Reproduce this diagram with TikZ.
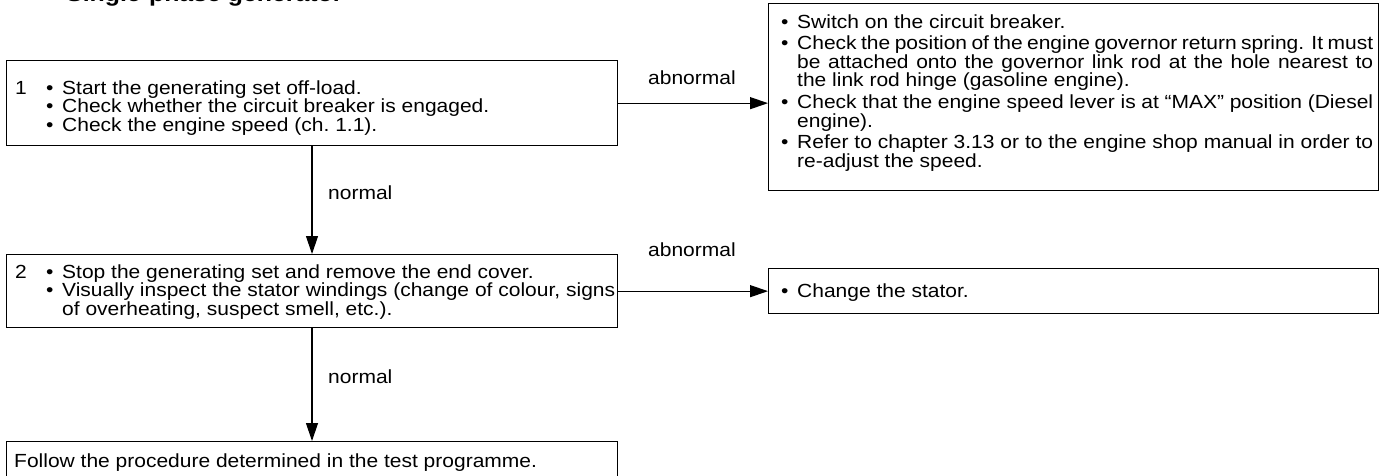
\documentclass[tikz,border=0pt]{standalone}
\usepackage{fontspec}
\setmainfont{Liberation Sans}[FakeStretch=1.105]
\usetikzlibrary{arrows.meta}
% bullet item with hanging indent
\newcommand{\pitem}[1]{\hangindent=16pt\hangafter=1\makebox[16pt][l]{\textbullet}#1\par}
\begin{document}
\begin{tikzpicture}[x=1pt,y=-1pt,
  every node/.style={font=\fontsize{19}{18}\selectfont,inner sep=0pt},
  stepbox/.style={draw,line width=1.3pt,rectangle,anchor=north west},
  steptext/.style={anchor=base west,align=justify},
  flow/.style={-{Triangle[length=18pt,width=12pt]},line width=1.2pt}]
\useasboundingbox (0,0) rectangle (1387,475);
% heading, cut by the page edge
\node[anchor=base west,font=\fontsize{22.5}{23}\bfseries\selectfont] (title) at (66,1) {Single-phase generator};
% step 1
\node[stepbox,minimum width=611pt,minimum height=85pt] (s1) at (6,60) {};
\node[anchor=base west] (n1) at (15,94) {1};
\node[steptext,text width=569pt,font=\fontsize{19}{17.7}\selectfont] (t1) at (46,94) {%
\pitem{Start the generating set off-load.}%
\pitem{Check whether the circuit breaker is engaged.}%
\pitem{Check the engine speed (ch.~1.1).}};
% remedy for step 1
\node[stepbox,minimum width=610pt,minimum height=187pt] (r1) at (768,3) {};
\node[steptext,text width=592pt,font=\fontsize{19}{18.5}\selectfont] (u1) at (781,28) {\setlength{\parskip}{3.3pt}%
\pitem{Switch on the circuit breaker.}%
\pitem{Check the position of the engine governor return spring. It must\linebreak
be attached onto the governor link rod at the hole nearest to\linebreak
the link rod hinge (gasoline engine).}%
\pitem{Check that the engine speed lever is at “MAX” position (Diesel\linebreak
engine).}%
\pitem{Refer to chapter 3.13 or to the engine shop manual in order to\linebreak
re-adjust the speed.}};
% step 2
\node[stepbox,minimum width=611pt,minimum height=73pt] (s2) at (6,254) {};
\node[anchor=base west] (n2) at (15,278) {2};
\node[steptext,text width=569pt,font=\fontsize{19}{18.5}\selectfont] (t2) at (46,278) {%
\pitem{Stop the generating set and remove the end cover.}%
\pitem{Visually inspect the stator windings (change of colour, signs\linebreak
of overheating, suspect smell, etc.).}};
% remedy for step 2
\node[stepbox,minimum width=610pt,minimum height=45pt] (r2) at (768,268) {};
\node[steptext,text width=580pt] (u2) at (781,297) {\pitem{Change the stator.}};
% final step, runs off the page
\node[stepbox,minimum width=611pt,minimum height=60pt] (s3) at (6,441) {};
\node[anchor=base west] (t3) at (14,467) {Follow the procedure determined in the test programme.};
% connectors
\draw[flow] (s1.east) -- (r1.west |- s1.east);
\draw[flow] (s2.east) -- (r2.west);
\draw[flow] (s1.south -| 312,0) -- (s2.north -| 312,0);
\draw[flow] (s2.south -| 312,0) -- (s3.north -| 312,0);
\node[anchor=base west] (a1) at (648,84) {abnormal};
\node[anchor=base west] (a2) at (648,256) {abnormal};
\node[anchor=base west] (m1) at (328,199) {normal};
\node[anchor=base west] (m2) at (328,383) {normal};
\end{tikzpicture}
\end{document}
